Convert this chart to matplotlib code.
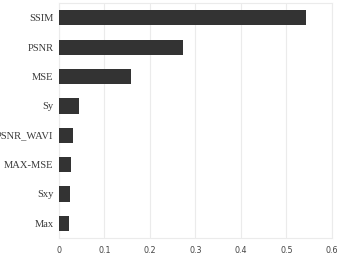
import numpy as np
import matplotlib.pyplot as plt

features = ['SSIM', 'PSNR', 'MSE', 'Sy', 'PSNR_WAVI', 'MAX-MSE', 'Sxy', 'Max']
importance = [0.543, 0.272, 0.159, 0.045, 0.031, 0.027, 0.025, 0.022]
xticks = [0, 0.1, 0.2, 0.3, 0.4, 0.5, 0.6]

fig = plt.figure(figsize=(3.4, 2.58), dpi=100)
ax = fig.add_axes([0.1735, 0.0775, 0.8025, 0.9105])

y = np.arange(len(features))
ax.barh(y, importance, height=0.52, color='#333333', zorder=3)
ax.set_ylim(len(features) - 0.5, -0.5)
ax.set_xlim(0, 0.6)
ax.set_yticks(y)
ax.set_yticklabels(features, family='Liberation Serif', fontsize=7.6, color='#3a3a3a')
ax.set_xticks(xticks)
ax.set_xticklabels([str(t) for t in xticks], fontsize=5.8, color='#444444')
ax.tick_params(length=0, pad=6)
ax.tick_params(axis='y', pad=4)
ax.grid(axis='x', color='#ebebeb', linewidth=0.8, zorder=0)
for s in ax.spines.values():
    s.set_color('#ebebeb')
    s.set_linewidth(0.8)

fig.savefig('out.png', dpi=100)
